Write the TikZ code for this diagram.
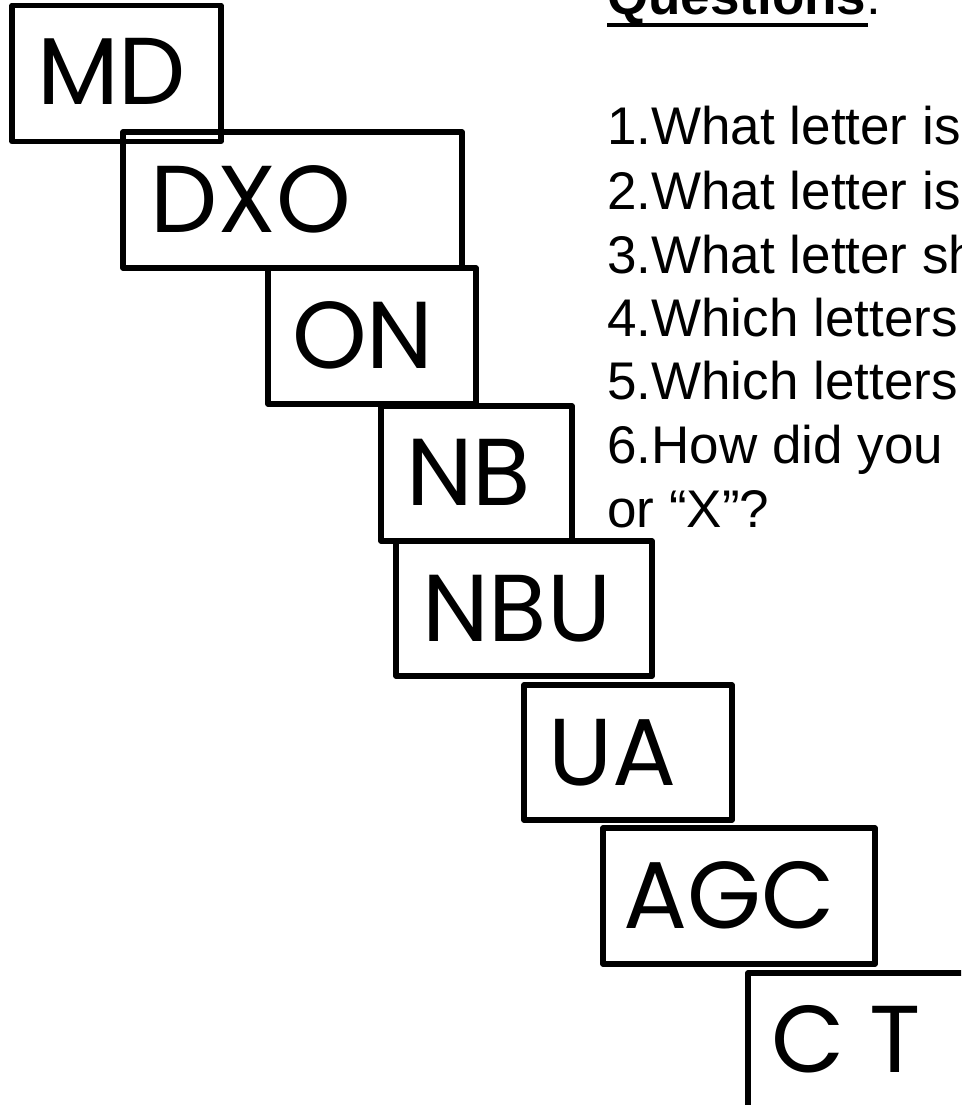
\documentclass[tikz,border=0pt]{standalone}
\usepackage{fontspec}
\setmainfont{Liberation Sans}
\newfontfamily\boxfont{Poppins}
\newcommand\boxlabel[1]{{\boxfont\fontsize{95}{95}\selectfont #1}}
\begin{document}
\begin{tikzpicture}[x=1pt,y=-1pt,
  box/.style={draw=black,line width=5.5pt,line join=round,rectangle,inner sep=0pt,outer sep=0pt,anchor=north west},
  boxtext/.style={anchor=base west,inner sep=0pt},
  qtext/.style={anchor=base west,inner sep=0pt,font=\fontsize{53}{64}\selectfont}]
\useasboundingbox (0,0) rectangle (961,1105);
\clip (0,0) rectangle (961,1105);
% boxes
\node[box,minimum width=209pt,minimum height=136pt] (bMD) at (12,5.5) {};
\node[box,minimum width=339pt,minimum height=136pt] (bDXO) at (123,132) {};
\node[box,minimum width=208pt,minimum height=136pt] (bON) at (268,268) {};
\node[box,minimum width=191pt,minimum height=135pt] (bNB) at (381,406) {};
\node[box,minimum width=256pt,minimum height=135pt] (bNBU) at (396,541) {};
\node[box,minimum width=208pt,minimum height=135pt] (bUA) at (524,685) {};
\node[box,minimum width=272pt,minimum height=136pt] (bAGC) at (603,828) {};
\node[box,minimum width=260pt,minimum height=200pt] (bCT) at (748,973) {};
% box texts
\node[boxtext] (tMD) at (37,105) {\boxlabel{MD}};
\node[boxtext] (tDXO) at (150,232) {\boxlabel{DXO}};
\node[boxtext] (tON) at (292,368) {\boxlabel{ON}};
\node[boxtext] (tNB) at (406,505) {\boxlabel{NB}};
\node[boxtext] (tNBU) at (422,641) {\boxlabel{NBU}};
\node[boxtext] (tUA) at (548,785) {\boxlabel{UA}};
\node[boxtext] (tAGC) at (623,928) {\boxlabel{AGC}};
\node[boxtext] (tCT) at (771,1072) {\boxlabel{C T}};
% questions
\node[qtext] (qh) at (607,15) {\textbf{Questions}:};
\draw[line width=4pt] (607,25) -- (868,25);
\node[qtext] (q1) at (607,144) {1.What letter is};
\node[qtext] (q2) at (607,209) {2.What letter is};
\node[qtext] (q3) at (607,273) {3.What letter sh};
\node[qtext] (q4) at (607,336) {4.Which letters};
\node[qtext] (q5) at (607,399) {5.Which letters};
\node[qtext] (q6) at (607,463) {6.How did you};
\node[qtext] (q7) at (607,527) {or “X”?};
\end{tikzpicture}
\end{document}
